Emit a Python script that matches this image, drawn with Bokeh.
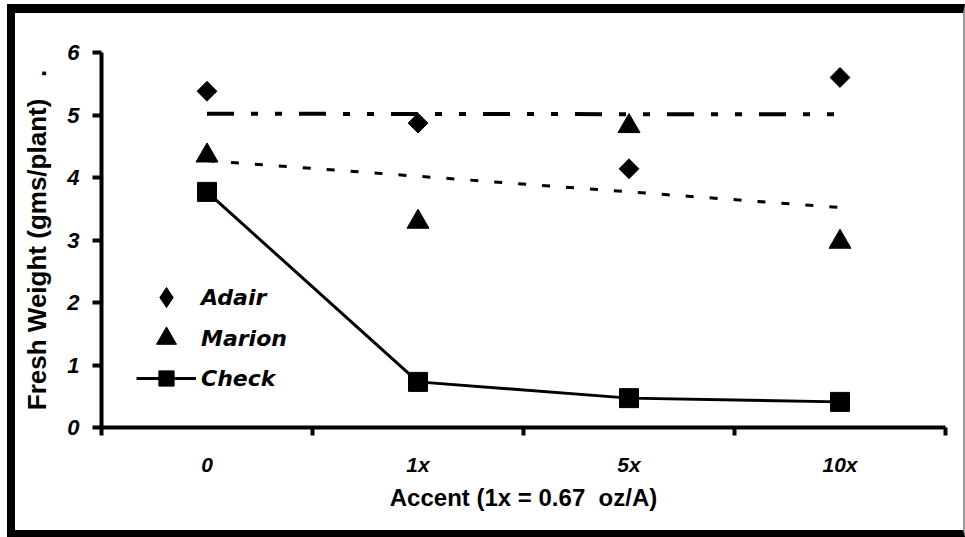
import numpy as np
from bokeh.plotting import figure
from bokeh.models import FixedTicker, Legend, LegendItem
from bokeh.embed import file_html
from bokeh.resources import INLINE

# ---- data ----
categories = ["0", "1x", "5x", "10x"]
adair = [5.38, 4.87, 4.14, 5.60]
marion = [4.35, 3.29, 4.82, 2.97]
check = [3.77, 0.73, 0.47, 0.41]
# linear trend lines (values at first and last category)
adair_trend = [5.02, 5.01]
marion_trend = [4.27, 3.52]
y_ticks = [0, 1, 2, 3, 4, 5, 6]

xpos = list(range(len(categories)))
trend_x = [xpos[0], xpos[-1]]
bounds = [i - 0.5 for i in range(len(categories) + 1)]

W, H = 958, 533
p = figure(width=W, height=H, x_range=(-0.5, 3.5), y_range=(0, 6),
           output_backend="svg", toolbar_location=None,
           min_border_left=86, min_border_right=28,
           min_border_top=39, min_border_bottom=119)
# outer picture frame (thick black on left/top/bottom, thin grey on right)
p.styles = {"margin-left": "7px", "margin-top": "4px",
            "border-left": "8px solid black", "border-top": "9px solid black",
            "border-bottom": "7px solid black", "border-right": "2px solid #999999"}
p.grid.visible = False
p.outline_line_color = None
p.background_fill_color = "white"
p.border_fill_color = "white"

FONT = "Liberation Sans"

# x axis
xa = p.xaxis[0]
xa.ticker = FixedTicker(ticks=xpos, minor_ticks=bounds)
xa.major_label_overrides = {i: c for i, c in zip(xpos, categories)}
xa.axis_line_width = 4
xa.axis_line_color = "black"
xa.major_tick_out = 0
xa.major_tick_in = 0
xa.minor_tick_out = 8
xa.minor_tick_in = 0
xa.minor_tick_line_width = 4
xa.minor_tick_line_color = "black"
xa.major_label_text_font = FONT
xa.major_label_text_font_style = "bold italic"
xa.major_label_text_font_size = "21px"
xa.major_label_text_color = "black"
xa.major_label_standoff = 17
xa.axis_label = "Accent (1x = 0.67\u00a0 oz/A)"
xa.axis_label_text_font = FONT
xa.axis_label_text_font_style = "bold"
xa.axis_label_text_font_size = "24px"
xa.axis_label_text_color = "black"
xa.axis_label_standoff = 5

# y axis
ya = p.yaxis[0]
ya.ticker = FixedTicker(ticks=y_ticks)
ya.axis_line_width = 4
ya.axis_line_color = "black"
ya.major_tick_out = 9
ya.major_tick_in = 0
ya.major_tick_line_width = 4
ya.major_tick_line_color = "black"
ya.minor_tick_out = 0
ya.minor_tick_in = 0
ya.major_label_text_font = FONT
ya.major_label_text_font_style = "bold italic"
ya.major_label_text_font_size = "22px"
ya.major_label_text_color = "black"
ya.major_label_standoff = 13
ya.axis_label = "Fresh Weight (gms/plant)\u00a0\u00a0\u00a0."
ya.axis_label_text_font = FONT
ya.axis_label_text_font_style = "bold"
ya.axis_label_text_font_size = "26px"
ya.axis_label_text_color = "black"
ya.axis_label_standoff = 12

# trend lines
p.line(trend_x, adair_trend, line_color="black", line_width=4,
       line_dash="27 17 7 17 7 17")
p.line(trend_x, marion_trend, line_color="black", line_width=3,
       line_dash="8 16")

# series
r_check_line = p.line(xpos, check, line_color="black", line_width=3)
r_check_pts = p.scatter(xpos, check, marker="square", size=19,
                        fill_color="black", line_color="black")
r_adair = p.scatter(xpos, adair, marker="square", size=14, angle=np.pi / 4,
                    fill_color="black", line_color="black")
r_marion = p.scatter(xpos, marion, marker="triangle", size=22,
                     fill_color="black", line_color="black")
# legend swatch for the diamond (legend glyphs are drawn unrotated)
r_adair_key = p.scatter(xpos, adair, marker="diamond", size=20,
                        fill_color="black", line_color="black", visible=False)

items = [("Adair", [r_adair_key], 50, 105), ("Marion", [r_marion], 50, 64),
         ("Check", [r_check_line, r_check_pts], 38, 30)]
for label, rends, gh, yb in items:
    lg = Legend(items=[LegendItem(label=label, renderers=rends)],
                location=(35, yb), orientation="vertical", padding=0, margin=0,
                spacing=0, glyph_width=60, glyph_height=gh, label_standoff=5,
                label_text_font="DejaVu Sans", label_text_font_style="bold italic",
                label_text_font_size="22px", label_text_color="black",
                border_line_color=None, background_fill_alpha=0)
    p.add_layout(lg)

open("out.html", "w").write(file_html(p, INLINE))
